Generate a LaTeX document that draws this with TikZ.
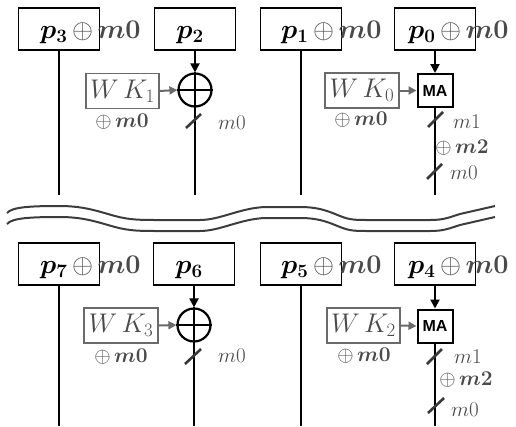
\RequirePackage{fix-cm}
\documentclass[tikz,border=0pt]{standalone}
\usepackage{fontspec}
\usepackage{bm}
\usetikzlibrary{arrows.meta}
\newfontfamily\arialf{Liberation Sans}
\definecolor{gtext}{HTML}{4A4A4A}
\definecolor{gbox}{HTML}{6A6A6A}
\definecolor{wavec}{HTML}{3C3C3C}
\definecolor{slashc}{HTML}{383838}
\tikzset{
 pbox/.style={draw=black, line width=1.6pt, minimum width=81pt, minimum height=42pt, inner sep=0pt},
 plabel/.style={inner sep=0pt, font=\fontsize{27}{31}\selectfont},
 wkbox/.style={draw=gbox, line width=1.6pt, minimum height=35pt, inner sep=0pt, text=gtext, font=\fontsize{27}{31}\selectfont},
 xorc/.style={circle, draw, line width=2.2pt, minimum size=33pt, inner sep=0pt},
 mabox/.style={draw, line width=2pt, minimum width=35pt, minimum height=33pt, inner sep=0pt, font=\arialf\bfseries\fontsize{16}{18}\selectfont},
 wire/.style={line width=2pt, black},
 blackarr/.style={wire, -{Triangle[length=9pt,width=9pt]}},
 grayarr/.style={line width=2pt, gbox, -{Triangle[length=8pt,width=8pt]}},
 sublabel/.style={inner sep=0pt, text=gtext, font=\fontsize{21}{25}\selectfont},
 slashmark/.style={line width=2.6pt, slashc},
 wave/.style={line width=2pt, wavec},
}
\begin{document}
\begin{tikzpicture}[x=1pt,y=-1pt]
\useasboundingbox (0,0) rectangle (516,426);
% break waves
\foreach \s in {0,11}{
\draw[wave, yshift=-\s pt] (7,213) .. controls (12,207) and (30,206) .. (60,206)
 .. controls (85,206) and (100,212) .. (115,216)
 .. controls (130,220) and (140,220) .. (160,220)
 -- (200,220)
 .. controls (220,220) and (240,208) .. (265,207)
 -- (300,207)
 .. controls (320,207) and (330,212) .. (340,216)
 .. controls (350,220) and (355,220) .. (370,220)
 -- (430,220)
 .. controls (445,220) and (450,217) .. (460,214)
 -- (495,206);
}
% ---------- top half ----------
\node[pbox] (b3) at (59,29) {};
\node[pbox] (b2) at (195,29) {};
\node[pbox] (b1) at (301,29) {};
\node[pbox] (b0) at (435,29) {};
\node[plabel, anchor=base west] (l3) at (40,38) {$\bm{p_3}\,{\color{gtext}\oplus\,\bm{m0}}$};
\node[plabel, anchor=base] (l2) at (190,38) {$\bm{p_2}$};
\node[plabel, anchor=base west] (l1) at (281,38) {$\bm{p_1}\,{\color{gtext}\oplus\,\bm{m0}}$};
\node[plabel, anchor=base west] (l0) at (408,38) {$\bm{p_0}\,{\color{gtext}\oplus\,\bm{m0}}$};
\coordinate (e3) at (59,195);
\coordinate (e2) at (195,195);
\coordinate (e1) at (301,195);
\coordinate (e0) at (435,195);
\draw[wire] (b3.south) -- (e3);
\draw[wire] (b1.south) -- (e1);
% XOR column
\node[xorc] (c2) at (195,90) {};
\draw[wire, line width=2.2pt] (c2.north) -- (c2.south) (c2.west) -- (c2.east);
\draw[blackarr] (b2.south) -- (c2.north);
\draw[wire] (c2.south) -- (e2);
\node[wkbox, minimum width=73pt] (w1) at (122.5,91) {$W\mkern3mu K_1$};
\draw[grayarr] (w1.east) -- (c2.west);
\node[sublabel] (x1) at (122,122) {$\oplus\,\bm{m0}$};
\draw[slashmark] (186,128) -- (201,114);
\node[sublabel] (s2) at (232,123) {$m0$};
% MA column
\node[mabox] (ma0) at (435,90.5) {MA};
\draw[blackarr] (b0.south) -- (ma0.north);
\draw[wire] (ma0.south) -- (e0);
\node[wkbox, minimum width=74pt] (w0) at (362,90.5) {$W\mkern3mu K_0$};
\draw[grayarr] (w0.east) -- (ma0.west);
\node[sublabel] (x0) at (361,120) {$\oplus\,\bm{m0}$};
\draw[slashmark] (428,127) -- (443,112);
\node[sublabel] (s0a) at (467,122) {$m1$};
\node[sublabel] (s0b) at (462,148) {$\oplus\,\bm{m2}$};
\draw[slashmark] (427,179) -- (442,164);
\node[sublabel] (s0c) at (464,173) {$m0$};
% ---------- bottom half ----------
\node[pbox] (b7) at (59,264) {};
\node[pbox] (b6) at (194,264) {};
\node[pbox] (b5) at (301,264) {};
\node[pbox] (b4) at (435,264) {};
\node[plabel, anchor=base west] (l7) at (40,273) {$\bm{p_7}\,{\color{gtext}\oplus\,\bm{m0}}$};
\node[plabel, anchor=base] (l6) at (189,273) {$\bm{p_6}$};
\node[plabel, anchor=base west] (l5) at (281,273) {$\bm{p_5}\,{\color{gtext}\oplus\,\bm{m0}}$};
\node[plabel, anchor=base west] (l4) at (408,273) {$\bm{p_4}\,{\color{gtext}\oplus\,\bm{m0}}$};
\coordinate (e7) at (59,426);
\coordinate (e6) at (194,426);
\coordinate (e5) at (301,426);
\coordinate (e4) at (435,426);
\draw[wire] (b7.south) -- (e7);
\draw[wire] (b5.south) -- (e5);
% XOR column
\node[xorc] (c6) at (194,325) {};
\draw[wire, line width=2.2pt] (c6.north) -- (c6.south) (c6.west) -- (c6.east);
\draw[blackarr] (b6.south) -- (c6.north);
\draw[wire] (c6.south) -- (e6);
\node[wkbox, minimum width=74pt] (w3) at (121,325.5) {$W\mkern3mu K_3$};
\draw[grayarr] (w3.east) -- (c6.west);
\node[sublabel] (x3) at (121,357) {$\oplus\,\bm{m0}$};
\draw[slashmark] (185,364) -- (201,349);
\node[sublabel] (s6) at (232,356) {$m0$};
% MA column
\node[mabox] (ma4) at (435,326) {MA};
\draw[blackarr] (b4.south) -- (ma4.north);
\draw[wire] (ma4.south) -- (e4);
\node[wkbox, minimum width=73pt] (w2) at (363.5,325.5) {$W\mkern3mu K_2$};
\draw[grayarr] (w2.east) -- (ma4.west);
\node[sublabel] (x2) at (364,356) {$\oplus\,\bm{m0}$};
\draw[slashmark] (427,364) -- (442,349);
\node[sublabel] (s4a) at (468,357) {$m1$};
\node[sublabel] (s4b) at (466,380) {$\oplus\,\bm{m2}$};
\draw[slashmark] (428,413) -- (444,398);
\node[sublabel] (s4c) at (465,410) {$m0$};
\end{tikzpicture}
\end{document}
